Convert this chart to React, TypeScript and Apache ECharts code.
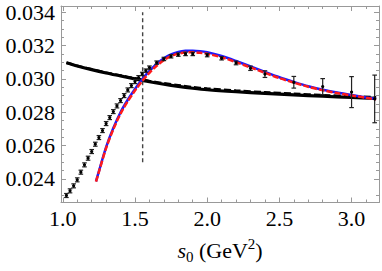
import React, { useEffect, useRef } from "react";
import * as echarts from "echarts";

// ---- data ----
const pointX = [1.025, 1.05, 1.075, 1.1, 1.125, 1.15, 1.175, 1.2, 1.225, 1.25, 1.275, 1.3, 1.325, 1.35, 1.375, 1.4, 1.425, 1.45, 1.475, 1.5, 1.525,
  1.55, 1.575, 1.6, 1.65, 1.7, 1.75, 1.8, 1.85, 1.9, 2.0, 2.1, 2.2, 2.3, 2.4, 2.6, 2.8, 3.0, 3.16];
const pointY = [0.02300, 0.02328, 0.02358, 0.02394, 0.02440, 0.02484, 0.02524, 0.02564, 0.02608, 0.02648, 0.02690, 0.02732, 0.02768, 0.02804, 0.02838, 0.02870, 0.02900, 0.02934, 0.02960, 0.02984, 0.03008,
  0.03030, 0.03050, 0.03068, 0.03098, 0.03120, 0.03136, 0.03146, 0.03150, 0.03150, 0.03143, 0.03124, 0.03096, 0.03064, 0.03029, 0.02980, 0.02954, 0.02921, 0.02880];
const pointErr = [0.00012, 0.00012, 0.00012, 0.00012, 0.00012, 0.00012, 0.00012, 0.00012, 0.00012, 0.00012, 0.00012, 0.00012, 0.00012, 0.00012, 0.00012, 0.00012, 0.00012, 0.00012, 0.00012, 0.00012, 0.00012,
  0.0001, 0.0001, 0.0001, 0.0001, 0.0001, 0.0001, 0.0001, 0.0001, 0.0001, 0.0001, 0.0001, 0.00011, 0.00013, 0.0002, 0.00035, 0.00048, 0.00093, 0.00143];

const curveX = [1.23, 1.25, 1.3, 1.35, 1.4, 1.45, 1.5, 1.55, 1.6, 1.65, 1.7, 1.75, 1.8, 1.85, 1.9, 1.95, 2.0, 2.1, 2.2, 2.3, 2.4, 2.5, 2.6, 2.7, 2.8, 2.9, 3.0, 3.1, 3.17];
const blueY = [0.02385, 0.02445, 0.02590, 0.02705, 0.02800, 0.02875, 0.02940, 0.02998, 0.03048, 0.03090, 0.03124, 0.03148, 0.03162, 0.03169, 0.03170, 0.03167, 0.03160, 0.03138, 0.03108, 0.03075, 0.03042, 0.03010, 0.02982, 0.02956, 0.02935, 0.02918, 0.02903, 0.02889, 0.02880];
const redY = [0.02383, 0.02442, 0.02585, 0.02698, 0.02792, 0.02866, 0.02930, 0.02987, 0.03037, 0.03079, 0.03113, 0.03137, 0.03152, 0.03159, 0.03160, 0.03157, 0.03151, 0.03130, 0.03101, 0.03069, 0.03037, 0.03005, 0.02978, 0.02953, 0.02932, 0.02915, 0.02901, 0.02887, 0.02878];

const blackX = [1.025, 1.1, 1.2, 1.3, 1.4, 1.5, 1.6, 1.7, 1.8, 1.9, 2.0, 2.2, 2.4, 2.6, 2.8, 3.0, 3.17];
const blackY = [0.03097, 0.03078, 0.03056, 0.03036, 0.03018, 0.03000, 0.02983, 0.02968, 0.02955, 0.02944, 0.02935, 0.02923, 0.02913, 0.02904, 0.02896, 0.02889, 0.02883];
const blackDashY = [0.03098, 0.03079, 0.03058, 0.03038, 0.03021, 0.03004, 0.02988, 0.02974, 0.02962, 0.02951, 0.02942, 0.02930, 0.02920, 0.02911, 0.02903, 0.02896, 0.02890];

const cutX = [1.553, 1.553];
const cutY = [0.025, 0.034];

const xMajor = [1.0, 1.5, 2.0, 2.5, 3.0];
const xMinor = [1.1, 1.2, 1.3, 1.4, 1.6, 1.7, 1.8, 1.9, 2.1, 2.2, 2.3, 2.4, 2.6, 2.7, 2.8, 2.9, 3.1];
const yMajor = [0.024, 0.026, 0.028, 0.030, 0.032, 0.034];
const yMinor = [0.0230, 0.0245, 0.0250, 0.0255, 0.0265, 0.0270, 0.0275, 0.0285, 0.0290, 0.0295, 0.0305, 0.0310, 0.0315, 0.0325, 0.0330, 0.0335];

const X_MIN = 0.9875, X_MAX = 3.19;
const Y_MIN = 0.02258, Y_MAX = 0.03438;

const FRAME = "#999999";
const FONT = "'Liberation Serif', 'DejaVu Serif', serif";

function zip(xs: number[], ys: number[]) {
  return xs.map((x, i) => [x, ys[i]]);
}

export default function App() {
  const ref = useRef<HTMLDivElement>(null);
  useEffect(() => {
    if (!ref.current) return;
    const chart = echarts.init(ref.current, undefined, { renderer: "svg" });
    const mkX = (pos: "top" | "bottom", vals: number[], len: number, labels: boolean, line: boolean, extra: any = {}) => ({
      type: "value",
      position: pos,
      min: X_MIN,
      max: X_MAX,
      gridIndex: 0,
      axisLine: { show: line, onZero: false, lineStyle: { color: FRAME, width: 1 } },
      axisTick: { show: true, inside: true, length: len, customValues: vals, lineStyle: { color: FRAME, width: 1 } },
      axisLabel: labels
        ? { show: true, customValues: vals, margin: 5, color: "#000", fontFamily: FONT, fontSize: 22, formatter: (v: number) => v.toFixed(1) }
        : { show: false },
      splitLine: { show: false },
      ...extra,
    });
    const mkY = (pos: "left" | "right", vals: number[], len: number, labels: boolean, line: boolean) => ({
      type: "value",
      position: pos,
      min: Y_MIN,
      max: Y_MAX,
      gridIndex: 0,
      axisLine: { show: line, onZero: false, lineStyle: { color: FRAME, width: 1 } },
      axisTick: { show: true, inside: true, length: len, customValues: vals, lineStyle: { color: FRAME, width: 1 } },
      axisLabel: labels
        ? { show: true, customValues: vals, margin: 6, color: "#000", fontFamily: FONT, fontSize: 22, formatter: (v: number) => v.toFixed(3) }
        : { show: false },
      splitLine: { show: false },
    });

    const option: any = {
      animation: false,
      backgroundColor: "#fff",
      grid: { left: 61, right: 3, top: 6, bottom: 68.5, containLabel: false },
      xAxis: [
        mkX("bottom", xMajor, 5, true, true, {
          name: "{i|s}{sub|0}{n| (GeV}{sup|2}{n|)}",
          nameLocation: "middle",
          nameGap: 34,
          nameTextStyle: {
            rich: {
              i: { fontFamily: FONT, fontStyle: "italic", fontSize: 22, color: "#000", lineHeight: 28, verticalAlign: "middle" },
              n: { fontFamily: FONT, fontSize: 22, color: "#000", lineHeight: 28, verticalAlign: "middle" },
              sub: { fontFamily: FONT, fontSize: 15, color: "#000", lineHeight: 15, verticalAlign: "bottom" },
              sup: { fontFamily: FONT, fontSize: 15, color: "#000", lineHeight: 15, verticalAlign: "top" },
            },
          },
        }),
        mkX("bottom", xMinor, 3, false, false),
        mkX("top", xMajor, 5, false, true),
        mkX("top", xMinor, 3, false, false),
      ],
      yAxis: [
        mkY("left", yMajor, 5, true, true),
        mkY("left", yMinor, 3, false, false),
        mkY("right", yMajor, 5, false, true),
        mkY("right", yMinor, 3, false, false),
      ],
      series: [
        {
          type: "line",
          data: zip(blackX, blackY),
          smooth: 0.3,
          showSymbol: false,
          lineStyle: { color: "#000", width: 3.2 },
          z: 2,
        },
        {
          type: "line",
          data: zip(blackX, blackDashY),
          smooth: 0.3,
          showSymbol: false,
          lineStyle: { color: "#000", width: 2.5, type: [7, 3] },
          z: 2,
        },
        {
          type: "line",
          data: zip(cutX, cutY),
          showSymbol: false,
          lineStyle: { color: "#444", width: 1.4, type: [4, 3] },
          z: 2,
        },
        {
          type: "line",
          data: zip(curveX, blueY),
          smooth: 0.3,
          showSymbol: false,
          lineStyle: { color: "#1a1aff", width: 2.5 },
          z: 3,
        },
        {
          type: "line",
          data: zip(curveX, redY),
          smooth: 0.3,
          showSymbol: false,
          lineStyle: { color: "#ff1a1a", width: 2.5, type: [6, 2] },
          z: 4,
        },
        {
          type: "custom",
          z: 5,
          data: pointX.map((x, i) => [x, pointY[i], pointErr[i]]),
          encode: { x: 0, y: 1 },
          renderItem: (params: any, api: any) => {
            const x = api.value(0), y = api.value(1), e = api.value(2);
            const p = api.coord([x, y]);
            const t = api.coord([x, y + e]);
            const b = api.coord([x, y - e]);
            const cw = 2.3;
            const st = { stroke: "#222", lineWidth: 1.2 };
            return {
              type: "group",
              children: [
                { type: "line", shape: { x1: p[0], y1: t[1], x2: p[0], y2: b[1] }, style: st },
                { type: "line", shape: { x1: p[0] - cw, y1: t[1], x2: p[0] + cw, y2: t[1] }, style: st },
                { type: "line", shape: { x1: p[0] - cw, y1: b[1], x2: p[0] + cw, y2: b[1] }, style: st },
                { type: "circle", shape: { cx: p[0], cy: p[1], r: 1.6 }, style: { fill: "#000" } },
              ],
            };
          },
        },
      ],
    };
    chart.setOption(option);
    return () => chart.dispose();
  }, []);
  return <div ref={ref} style={{ position: "fixed", left: 0, top: 0, width: 382, height: 271 }} />;
}
